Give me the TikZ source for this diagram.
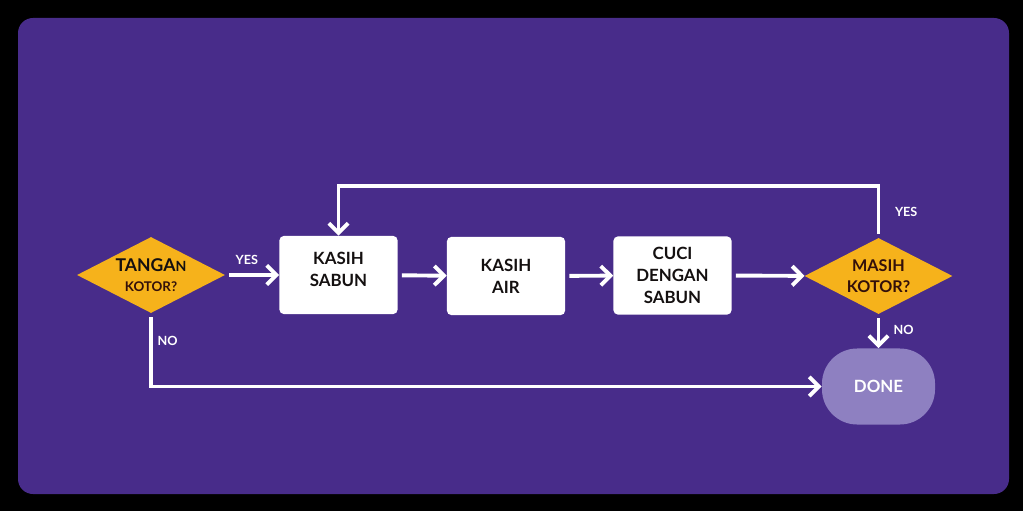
\documentclass[tikz,border=0pt]{standalone}
\usepackage{fontspec}
\setmainfont{Lato}
\usetikzlibrary{shapes.geometric, arrows.meta}

\definecolor{bgpurple}{HTML}{482C8A}
\definecolor{askyellow}{HTML}{F6B21B}
\definecolor{donepurple}{HTML}{8E80C1}
\definecolor{inkdark}{HTML}{141010}
\definecolor{inkbrown}{HTML}{33100A}

\tikzset{
  decision/.style={fill=askyellow, diamond, aspect=2, inner sep=0pt, minimum width=3.7cm, minimum height=1.9cm, align=center, text=inkbrown},
  stepbox/.style={fill=white, rounded corners=3pt, minimum width=2.95cm, minimum height=1.95cm, align=center, text=inkdark, font=\fontsize{12}{15.5}\selectfont\bfseries},
  endnode/.style={fill=donepurple, rounded corners=0.88cm, minimum width=2.825cm, minimum height=1.9cm, text=white, font=\fontsize{12}{14}\selectfont\bfseries},
  flow/.style={draw=white, line width=2.8pt, shorten <=1mm, -{Straight Barb[length=2.4mm, width=4.8mm]}},
  answer/.style={text=white, font=\fontsize{9}{10}\selectfont\bfseries},
}

\begin{document}
\begin{tikzpicture}[x=0.025cm, y=-0.025cm]
% backdrop
\fill[black] (0,0) rectangle (1023,511);
\fill[bgpurple, rounded corners=0.375cm] (18,18) rectangle (1009,494);

% nodes
\node[decision] (hands) at (151,275) {{\fontsize{12.5}{15}\selectfont\bfseries\color{inkdark}TANGA{\fontsize{10}{12}\selectfont N}}\\[2pt]{\fontsize{9.5}{11}\selectfont\bfseries KOTOR?}};
\node[stepbox, text depth=8pt] (soap) at (338.5,275) {KASIH\\SABUN};
\node[stepbox] (water) at (506,276) {KASIH\\AIR};
\node[stepbox] (scrub) at (672.5,275.5) {CUCI\\DENGAN\\SABUN};
\node[decision, font=\fontsize{11.5}{15}\selectfont\bfseries] (check) at (878.5,276) {MASIH\\KOTOR?};
\node[endnode] (done) at (878.5,386.5) {DONE};

% connectors
\draw[flow] (hands) -- (soap) node[answer, above=3pt, pos=.4]{YES};
\draw[flow] (soap) -- (water);
\draw[flow] (water) -- (scrub);
\draw[flow] (scrub) -- (check);
\draw[flow] (check.north) |- ([yshift=1.25cm]soap.north) node[answer, right=7pt, pos=.25]{YES} -- (soap.north);
\draw[flow] (check.south) -- (done.north) node[answer, right=6pt, pos=.45]{NO};
\draw[flow] (hands.south) |- (done.west) node[answer, right=0pt, pos=.19]{NO};
\end{tikzpicture}
\end{document}
